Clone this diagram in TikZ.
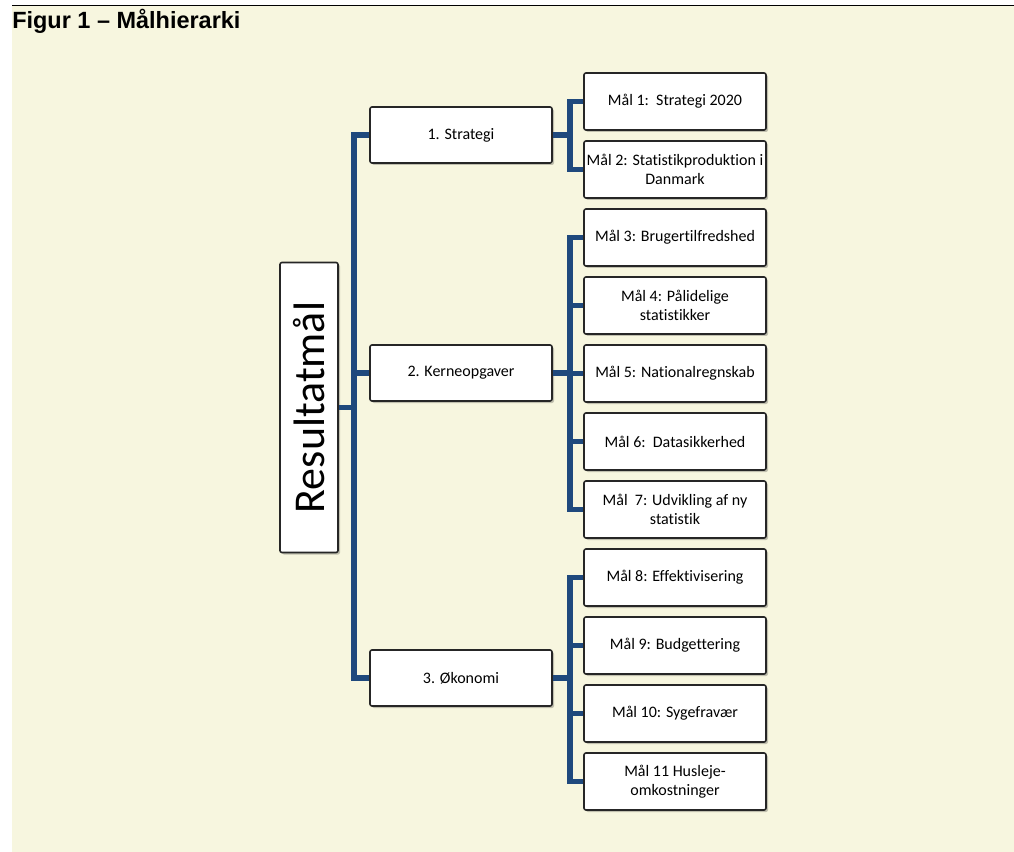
\documentclass[tikz,border=0pt]{standalone}
\usepackage{fontspec}
\setmainfont{Carlito}[Ligatures=NoCommon]
\newfontfamily\headfont{Liberation Sans}
\usepackage{graphicx}
\usepackage{tikz}
\usetikzlibrary{shadows}
\definecolor{cream}{RGB}{247,246,223}
\definecolor{navy}{RGB}{31,73,125}
\tikzstyle{bx} = [rectangle, draw=black!85, fill=white, line width=1.2pt, rounded corners=1.5pt, align=center, inner sep=0pt, font=\fontsize{12}{14.5}\selectfont, drop shadow={shadow xshift=1.5pt, shadow yshift=-1.5pt, opacity=0.22, fill=black}]
\tikzstyle{rb} = [bx, minimum width=43.5pt, minimum height=217.5pt, font=\fontsize{33}{36}\selectfont]
\tikzstyle{kb} = [bx, minimum width=136.5pt, minimum height=42pt]
\tikzstyle{mb} = [bx, minimum width=136.5pt, minimum height=42.75pt]
\tikzstyle{ln} = [navy, line width=4pt]

\begin{document}
\begin{tikzpicture}[x=0.75pt, y=-0.75pt]
		\useasboundingbox (0,0) rectangle (1014,852);
		\fill[cream] (12,6) rectangle (1014,852);
		\draw[line width=1.2pt] (12,5.5) -- (1014,5.5);
		\node[anchor=base west, inner sep=0pt, font=\headfont\bfseries\fontsize{17.6}{20}\selectfont] (title) at (12,29) {Figur 1 – Målhierarki};

		\node[rb] (res) at (309,407.5) {\rotatebox{90}{Resultatmål}};

		\node[kb] (k1) at (461,135) {1. Strategi};
		\node[kb] (k2) at (461,373) {2. Kerneopgaver};
		\node[kb] (k3) at (461,678) {3. Økonomi};

		\node[mb] (m1) at (675,101.5) {Mål 1:\ \ Strategi 2020};
		\node[mb] (m2) at (675,169.5) {Mål 2: Statistikproduktion i\\Danmark};
		\node[mb] (m3) at (675,237.5) {Mål 3: Brugertilfredshed};
		\node[mb] (m4) at (675,305.5) {Mål 4: Pålidelige\\statistikker};
		\node[mb] (m5) at (675,373.5) {Mål 5: Nationalregnskab};
		\node[mb] (m6) at (675,441.5) {Mål 6:\ \ Datasikkerhed};
		\node[mb] (m7) at (675,509.5) {Mål\ \ 7: Udvikling af ny\\statistik};
		\node[mb] (m8) at (675,577.5) {Mål 8: Effektivisering};
		\node[mb] (m9) at (675,645.5) {Mål 9: Budgettering};
		\node[mb] (m10) at (675,713.5) {Mål 10: Sygefravær};
		\node[mb] (m11) at (675,781.5) {Mål 11 Husleje-\\omkostninger};

		\coordinate (t0) at (354,407.5);
		\coordinate (t1) at (570,135);
		\coordinate (t2) at (570,373);
		\coordinate (t3) at (570,679.5);

		\draw[ln] (res.east) -- (t0);
		\draw[ln] (k1.west) -| (t0) |- (k3.west);
		\draw[ln] (k2.west) -- (k2.west -| t0);

		\draw[ln] (k1.east) -- (t1);
		\draw[ln] (m1.west) -| (t1) |- (m2.west);

		\draw[ln] (k2.east) -- (t2);
		\draw[ln] (m3.west) -| (t2) |- (m7.west);
		\draw[ln] (m4.west) -- (m4.west -| t2);
		\draw[ln] (m5.west) -- (m5.west -| t2);
		\draw[ln] (m6.west) -- (m6.west -| t2);

		\draw[ln] (k3.east) -- (k3.east -| t3);
		\draw[ln] (m8.west) -| (t3) |- (m11.west);
		\draw[ln] (m9.west) -- (m9.west -| t3);
		\draw[ln] (m10.west) -- (m10.west -| t3);
\end{tikzpicture}
\end{document}
